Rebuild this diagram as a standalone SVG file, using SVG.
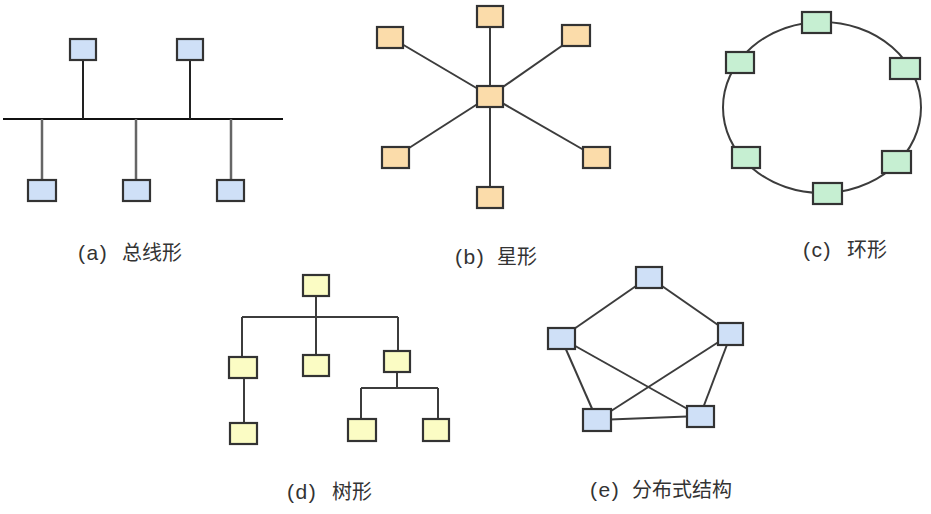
<svg xmlns="http://www.w3.org/2000/svg" width="931" height="514" viewBox="0 0 931 514">
<style>
.bg{fill:#ffffff}
.n rect{stroke:#333;stroke-width:2.2}
.blue rect{fill:#cfe0f7}
.peach rect{fill:#fbdcaa}
.green rect{fill:#c6efd2}
.yellow rect{fill:#fbfcc4}
.ln{stroke:#3c3c3c;stroke-width:2;fill:none}
.lg{stroke:#666;stroke-width:2.5;fill:none}
.lbl{font-family:"Liberation Sans","Noto Sans CJK SC",sans-serif;font-size:21px;letter-spacing:1.5px;fill:#333}
.cjk{font-family:"Noto Sans CJK SC",sans-serif;font-size:20px;fill:#333}
</style>
<rect class="bg" x="0" y="0" width="931" height="514"/>

<g id="connectors">
  <!-- bus -->
  <line class="ln" x1="3" y1="119" x2="283" y2="119" style="stroke:#111"/>
  <line class="ln" x1="83" y1="60" x2="83" y2="119" style="stroke:#222"/>
  <line class="ln" x1="190" y1="60" x2="190" y2="119" style="stroke:#222"/>
  <line class="lg" x1="42" y1="119" x2="42" y2="180"/>
  <line class="lg" x1="136" y1="119" x2="136" y2="180"/>
  <line class="lg" x1="231" y1="119" x2="231" y2="180"/>
  <!-- star -->
  <line class="ln" x1="490" y1="96" x2="490" y2="16"/>
  <line class="ln" x1="490" y1="96" x2="390" y2="37"/>
  <line class="ln" x1="490" y1="96" x2="576" y2="36"/>
  <line class="ln" x1="490" y1="96" x2="395" y2="157"/>
  <line class="ln" x1="490" y1="96" x2="596" y2="157"/>
  <line class="ln" x1="490" y1="96" x2="490" y2="197"/>
  <!-- ring -->
  <ellipse class="ln" cx="822" cy="107.5" rx="99" ry="85.5"/>
  <!-- tree -->
  <line class="ln" x1="316" y1="296" x2="316" y2="355"/>
  <line class="ln" x1="242" y1="317" x2="398" y2="317"/>
  <line class="ln" x1="242" y1="317" x2="242" y2="357"/>
  <line class="ln" x1="398" y1="317" x2="398" y2="351"/>
  <line class="ln" x1="244" y1="378" x2="244" y2="423"/>
  <line class="ln" x1="397" y1="372" x2="397" y2="388"/>
  <line class="ln" x1="361" y1="388" x2="438" y2="388"/>
  <line class="ln" x1="361" y1="388" x2="361" y2="419"/>
  <line class="ln" x1="438" y1="388" x2="438" y2="419"/>
  <!-- distributed -->
  <line class="ln" x1="649" y1="277" x2="561" y2="338"/>
  <line class="ln" x1="649" y1="277" x2="731" y2="334"/>
  <line class="ln" x1="561" y1="338" x2="597" y2="420"/>
  <line class="ln" x1="561" y1="338" x2="700" y2="416"/>
  <line class="ln" x1="731" y1="334" x2="597" y2="420"/>
  <line class="ln" x1="731" y1="334" x2="700" y2="416"/>
  <line class="ln" x1="597" y1="420" x2="700" y2="416"/>
</g>

<!-- bus nodes -->
<g id="bus-top1" class="n blue"><rect x="70" y="39" width="26" height="21"/></g>
<g id="bus-top2" class="n blue"><rect x="177" y="39" width="26" height="21"/></g>
<g id="bus-bot1" class="n blue"><rect x="28" y="180" width="28" height="21"/></g>
<g id="bus-bot2" class="n blue"><rect x="123" y="180" width="27" height="21"/></g>
<g id="bus-bot3" class="n blue"><rect x="217" y="180" width="27" height="21"/></g>

<!-- star nodes -->
<g id="star-center" class="n peach"><rect x="477" y="86" width="26" height="21"/></g>
<g id="star-top" class="n peach"><rect x="477" y="6" width="26" height="21"/></g>
<g id="star-tl" class="n peach"><rect x="377" y="27" width="26" height="21"/></g>
<g id="star-tr" class="n peach"><rect x="562" y="25" width="28" height="21"/></g>
<g id="star-bl" class="n peach"><rect x="382" y="147" width="27" height="21"/></g>
<g id="star-br" class="n peach"><rect x="583" y="147" width="27" height="21"/></g>
<g id="star-bot" class="n peach"><rect x="477" y="187" width="26" height="21"/></g>

<!-- ring nodes -->
<g id="ring-top" class="n green"><rect x="802" y="12" width="29" height="21"/></g>
<g id="ring-tl" class="n green"><rect x="726" y="52" width="28" height="21"/></g>
<g id="ring-tr" class="n green"><rect x="890" y="58" width="30" height="21"/></g>
<g id="ring-bl" class="n green"><rect x="732" y="147" width="28" height="21"/></g>
<g id="ring-br" class="n green"><rect x="882" y="151" width="29" height="22"/></g>
<g id="ring-bot" class="n green"><rect x="813" y="183" width="29" height="21"/></g>

<!-- tree nodes -->
<g id="tree-root" class="n yellow"><rect x="303" y="275" width="26" height="21"/></g>
<g id="tree-l" class="n yellow"><rect x="229" y="357" width="28" height="21"/></g>
<g id="tree-m" class="n yellow"><rect x="303" y="355" width="26" height="21"/></g>
<g id="tree-r" class="n yellow"><rect x="384" y="351" width="26" height="21"/></g>
<g id="tree-ll" class="n yellow"><rect x="230" y="423" width="27" height="21"/></g>
<g id="tree-rl" class="n yellow"><rect x="348" y="419" width="28" height="22"/></g>
<g id="tree-rr" class="n yellow"><rect x="423" y="419" width="26" height="22"/></g>

<!-- distributed nodes -->
<g id="dist-top" class="n blue"><rect x="636" y="267" width="26" height="21"/></g>
<g id="dist-l" class="n blue"><rect x="548" y="328" width="27" height="21"/></g>
<g id="dist-r" class="n blue"><rect x="718" y="323" width="25" height="22"/></g>
<g id="dist-bl" class="n blue"><rect x="583" y="409" width="28" height="22"/></g>
<g id="dist-br" class="n blue"><rect x="687" y="406" width="27" height="21"/></g>

<!-- labels -->
<g id="label-a"><text class="lbl" x="78" y="260">(a)</text><text class="cjk" x="122" y="260">总线形</text></g>
<g id="label-b"><text class="lbl" x="455" y="264">(b)</text><text class="cjk" x="497" y="264">星形</text></g>
<g id="label-c"><text class="lbl" x="803" y="257">(c)</text><text class="cjk" x="847" y="257">环形</text></g>
<g id="label-d"><text class="lbl" x="287" y="499">(d)</text><text class="cjk" x="332" y="499">树形</text></g>
<g id="label-e"><text class="lbl" x="590" y="497">(e)</text><text class="cjk" x="632" y="497">分布式结构</text></g>
</svg>
